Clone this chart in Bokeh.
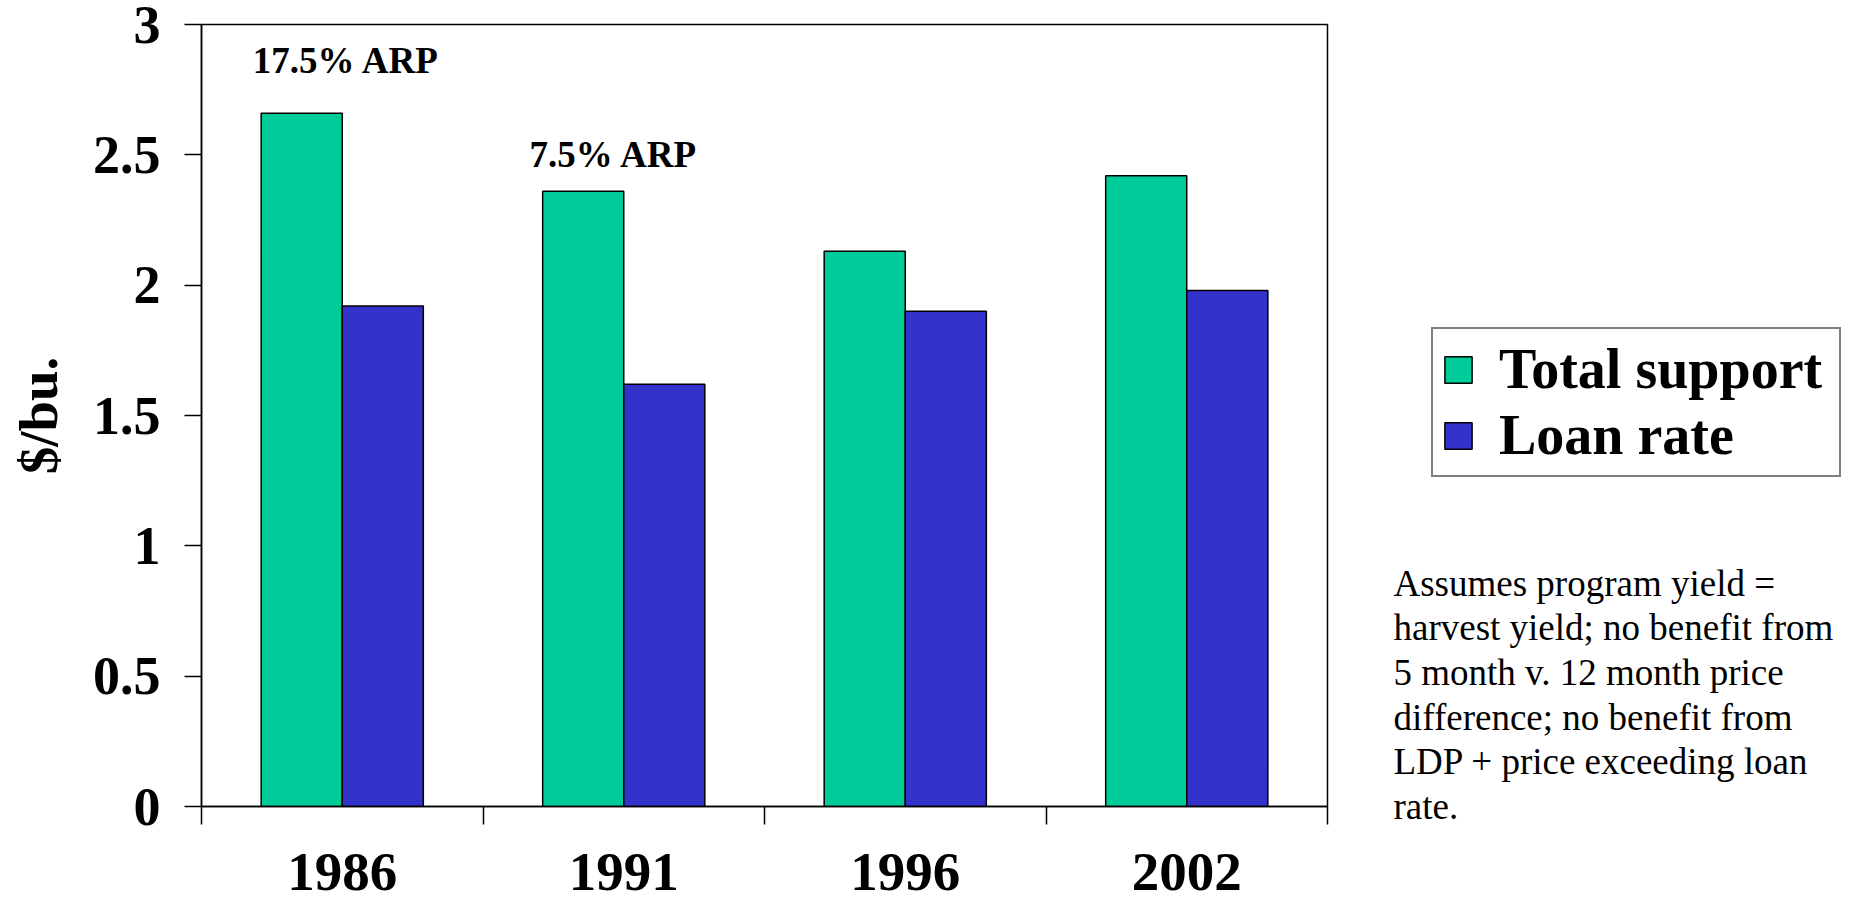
from bokeh.plotting import figure
from bokeh.layouts import row
from bokeh.models import (ColumnDataSource, Range1d, FixedTicker, NumeralTickFormatter,
                          Legend, LegendItem, Label)
from bokeh.transform import dodge
from bokeh.embed import file_html
from bokeh.resources import INLINE
from bokeh.core.properties import value

# ---- data ----
years = ["1986", "1991", "1996", "2002"]
total_support = [2.66, 2.36, 2.13, 2.42]
loan_rate = [1.92, 1.62, 1.90, 1.98]
y_ticks = [0, 0.5, 1, 1.5, 2, 2.5, 3]
series_names = ["Total support", "Loan rate"]
ann_year = ["1986", "1991"]
ann_text = ["17.5% ARP", "7.5% ARP"]
ann_y = [2.86, 2.50]
note_lines = [
    "Assumes program yield =",
    "harvest yield; no benefit from",
    "5 month v. 12 month price",
    "difference; no benefit from",
    "LDP + price exceeding loan",
    "rate.",
]

GREEN = "#00CC99"
BLUE = "#3333CC"
FONT = "Liberation Serif"
H = 906

centers = [i + 0.5 for i in range(len(years))]
bounds = list(range(len(years) + 1))

src = ColumnDataSource(dict(x=centers, year=years, total=total_support, loan=loan_rate))
ann_src = ColumnDataSource(dict(
    x=[years.index(y) + 0.5 for y in ann_year],
    y=ann_y, text=ann_text, dx=[4, -10]))

# ---------------- main chart ----------------
p = figure(x_range=Range1d(0, len(years)), y_range=Range1d(0, 3),
           frame_width=1126, frame_height=782,
           min_border_left=201, min_border_top=24, min_border_right=40,
           min_border_bottom=100,
           output_backend="svg", toolbar_location=None)

p.grid.visible = False
p.background_fill_color = "white"
p.border_fill_color = "white"
p.outline_line_color = "black"
p.outline_line_width = 1.5

r1 = p.vbar(x=dodge("x", -0.144, range=p.x_range), top="total", width=0.288, source=src,
            fill_color=GREEN, line_color="black", line_width=1.5)
r2 = p.vbar(x=dodge("x", 0.144, range=p.x_range), top="loan", width=0.288, source=src,
            fill_color=BLUE, line_color="black", line_width=1.5)

p.text(x="x", y="y", text="text", x_offset="dx", source=ann_src,
       text_font=value(FONT), text_font_style="bold", text_font_size="37px",
       text_align="center", text_baseline="middle", text_color="black")

# y axis
ya = p.yaxis[0]
ya.ticker = FixedTicker(ticks=y_ticks)
ya.formatter = NumeralTickFormatter(format="0.[0]")
ya.major_label_text_font = FONT
ya.major_label_text_font_style = "bold"
ya.major_label_text_font_size = "54px"
ya.major_label_text_color = "black"
ya.major_tick_out = 17
ya.major_tick_in = 0
ya.major_tick_line_color = "black"
ya.major_tick_line_width = 1.5
ya.minor_tick_line_color = None
ya.axis_line_color = "black"
ya.axis_line_width = 1.5
ya.major_label_standoff = 24
ya.axis_label = "$/bu."
ya.axis_label_text_font = FONT
ya.axis_label_text_font_style = "bold"
ya.axis_label_text_font_size = "55px"
ya.axis_label_text_color = "black"
ya.axis_label_standoff = 21

# x axis: labels at category centers, ticks at category boundaries
xa = p.xaxis[0]
xa.ticker = FixedTicker(ticks=centers, minor_ticks=bounds)
xa.major_label_overrides = {c: y for c, y in zip(centers, years)}
xa.major_label_text_font = FONT
xa.major_label_text_font_style = "bold"
xa.major_label_text_font_size = "55px"
xa.major_label_text_color = "black"
xa.major_tick_out = 18
xa.major_tick_in = 0
xa.major_tick_line_color = None
xa.minor_tick_out = 18
xa.minor_tick_in = 0
xa.minor_tick_line_color = "black"
xa.minor_tick_line_width = 1.5
xa.axis_line_color = "black"
xa.axis_line_width = 1.5
xa.major_label_standoff = 29

# ---------------- side panel: legend + note ----------------
q = figure(width=486, height=H, x_range=Range1d(0, len(years)), y_range=Range1d(0, 3),
           min_border=0, x_axis_location=None, y_axis_location=None,
           output_backend="svg", toolbar_location=None)
q.grid.visible = False
q.outline_line_color = None
q.background_fill_color = "white"
q.border_fill_color = "white"
frame_bottom = H
if "frame_align" in q.properties():
    q.frame_align = False
else:
    frame_bottom = 806

# hidden copies of the series: they only supply the legend swatches
k1 = q.vbar(x="x", top="total", width=0.288, source=src, visible=False,
            fill_color=GREEN, line_color="black", line_width=1.5)
k2 = q.vbar(x="x", top="loan", width=0.288, source=src, visible=False,
            fill_color=BLUE, line_color="black", line_width=1.5)

legend = Legend(items=[LegendItem(label=series_names[0], renderers=[k1]),
                       LegendItem(label=series_names[1], renderers=[k2])],
                location=(64, frame_bottom - 477),
                label_text_font=FONT, label_text_font_style="bold",
                label_text_font_size="56px", label_text_color="black",
                glyph_width=34, glyph_height=33, label_standoff=24, label_width=332,
                padding=8, spacing=2, margin=0,
                border_line_color="black", border_line_width=2,
                background_fill_color="white", background_fill_alpha=1.0,
                inactive_fill_alpha=0.0)
q.add_layout(legend)

note = Label(x=26, y=frame_bottom - 562, x_units="screen", y_units="screen",
             text="\n".join(note_lines), text_font=FONT, text_font_size="37px",
             text_align="left", text_baseline="top", text_line_height=1.09,
             text_color="black")
q.add_layout(note)

layout = row(p, q, spacing=0)
open("out.html", "w").write(file_html(layout, INLINE))
